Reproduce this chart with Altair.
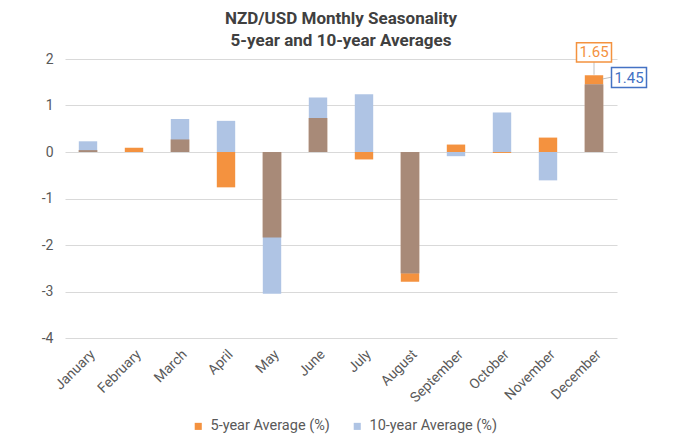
import altair as alt
import pandas as pd

months = ["January", "February", "March", "April", "May", "June", "July",
          "August", "September", "October", "November", "December"]
avg5 = [0.04, 0.09, 0.27, -0.76, -1.84, 0.73, -0.16, -2.79, 0.16, -0.02, 0.31, 1.65]
avg10 = [0.23, 0.0, 0.71, 0.67, -3.05, 1.17, 1.24, -2.61, -0.09, 0.85, -0.61, 1.45]

S5 = "5-year Average (%)"
S10 = "10-year Average (%)"
ORANGE = "#F4923F"
BLUE = "#AFC4E4"
BROWN = "#A88A78"
BLUE_DARK = "#4472C4"
GRAY = "#595959"
FONT = "Roboto"

long_rows = []
for m, a, b in zip(months, avg5, avg10):
    long_rows.append({"month": m, "series": S5, "value": a})
    long_rows.append({"month": m, "series": S10, "value": b})
long_df = pd.DataFrame(long_rows)

wide_df = pd.DataFrame({"month": months, "a5": avg5, "a10": avg10})

x_enc = alt.X("month:N", sort=months,
              scale=alt.Scale(paddingInner=0.6, paddingOuter=0.3),
              axis=alt.Axis(title=None, labelAngle=-45, labelAlign="right",
                            labelBaseline="top", labelPadding=9, ticks=False,
                            domain=False, labelFont=FONT, labelFontSize=14,
                            labelColor=GRAY, labelOverlap=False))
y_scale = alt.Scale(domain=[-4, 2], nice=False)

bars = alt.Chart(long_df).mark_bar().encode(
    x=x_enc,
    y=alt.Y("value:Q", scale=y_scale, stack=None,
            axis=alt.Axis(title=None, values=[-4, -3, -2, -1, 0, 1, 2],
                          tickSize=0, domain=False, labelPadding=12,
                          labelExpr="datum.value + ''",
                          labelFont=FONT, labelFontSize=14, labelColor=GRAY,
                          gridColor="#D9D9D9", gridWidth=1)),
    color=alt.Color("series:N", sort=[S5, S10],
                    scale=alt.Scale(domain=[S5, S10], range=[ORANGE, BLUE]),
                    legend=alt.Legend(title=None, orient="none", direction="horizontal",
                                      legendX=126, legendY=360, symbolType="square",
                                      symbolSize=50, symbolStrokeWidth=0,
                                      labelFont=FONT, labelFontSize=14.5,
                                      labelColor=GRAY, columnPadding=20,
                                      labelOffset=5)),
)

overlap = alt.Chart(wide_df).transform_calculate(
    same="datum.a5 * datum.a10 > 0 ? 1 : 0",
    ov="datum.a5 > 0 ? min(datum.a5, datum.a10) : max(datum.a5, datum.a10)",
    zero="0",
).transform_filter("datum.same == 1").mark_bar(color=BROWN).encode(
    x=alt.X("month:N", sort=months),
    y=alt.Y("ov:Q", scale=y_scale),
    y2="zero:Q",
)

dec_df = pd.DataFrame({"month": [months[-1]], "a5": [avg5[-1]], "a10": [avg10[-1]]})
dec = alt.Chart(dec_df)

lead5 = dec.mark_point(shape="M0,-1L0,1", size=169, stroke="#A6A6A6",
                       strokeWidth=1, yOffset=-7, filled=False).encode(
    x=alt.X("month:N", sort=months), y=alt.Y("a5:Q", scale=y_scale))
lead10 = dec.mark_point(shape="M-1,0.3L1,-0.1", size=100, stroke="#A6A6A6",
                        strokeWidth=1, xOffset=13, yOffset=-7, filled=False).encode(
    x=alt.X("month:N", sort=months), y=alt.Y("a10:Q", scale=y_scale))

box5 = dec.mark_point(shape="M-1,-0.55L1,-0.55L1,0.55L-1,0.55Z", size=1225,
                      stroke=ORANGE, strokeWidth=1.5, fill="white", filled=False,
                      opacity=1, yOffset=-23).encode(
    x=alt.X("month:N", sort=months), y=alt.Y("a5:Q", scale=y_scale))
txt5 = dec.mark_text(font=FONT, fontSize=15, color=ORANGE, dy=-23,
                     baseline="middle").encode(
    x=alt.X("month:N", sort=months), y=alt.Y("a5:Q", scale=y_scale),
    text=alt.Text("a5:Q", format=".2f"))

box10 = dec.mark_point(shape="M-1,-0.57L1,-0.57L1,0.57L-1,0.57Z", size=1225,
                       stroke=BLUE_DARK, strokeWidth=1.5, fill="white", filled=False,
                       opacity=1, xOffset=35, yOffset=-7).encode(
    x=alt.X("month:N", sort=months), y=alt.Y("a10:Q", scale=y_scale))
txt10 = dec.mark_text(font=FONT, fontSize=15, color=BLUE_DARK, dx=35, dy=-7,
                      baseline="middle").encode(
    x=alt.X("month:N", sort=months), y=alt.Y("a10:Q", scale=y_scale),
    text=alt.Text("a10:Q", format=".2f"))

chart = alt.layer(bars, overlap, lead5, lead10, box5, txt5, box10, txt10).properties(
    width=552, height=279,
    title=alt.TitleParams(["NZD/USD Monthly Seasonality", "5-year and 10-year Averages"],
                          font=FONT, fontSize=17, fontWeight="bold", color="#404040",
                          anchor="middle", lineHeight=22, offset=-10),
    padding={"left": 33, "top": 1, "right": 5, "bottom": 5},
).configure_view(stroke=None)

chart.save("out.html", embed_options={"renderer": "svg", "actions": False})
